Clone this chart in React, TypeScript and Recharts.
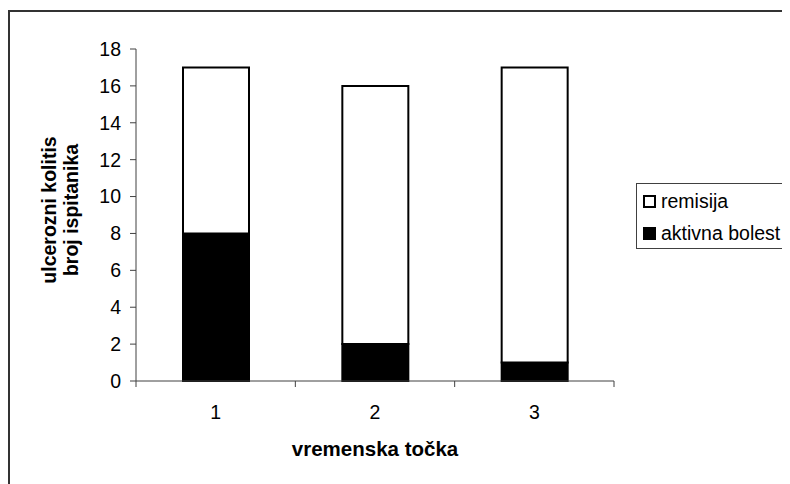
import { Bar, BarChart, Label, XAxis, YAxis } from "recharts";

const categories = ["1", "2", "3"];
const aktivnaBolest = [8, 2, 1];
const remisija = [9, 14, 16];
const yTicks = [0, 2, 4, 6, 8, 10, 12, 14, 16, 18];

const legendItems = [
  { name: "remisija", fill: "#ffffff" },
  { name: "aktivna bolest", fill: "#000000" },
];

const data = categories.map((name, i) => ({
  name,
  aktivna: aktivnaBolest[i],
  remisija: remisija[i],
}));

const FONT = "'Liberation Sans', Arial, sans-serif";
const AXIS = "#404040";

// kategorijska os: oznaka u sredini, crtica na granicama kategorija (kao Excel)
function EdgeTick(props: any) {
  const { x, y, payload, index, visibleTicksCount, width } = props;
  const half = payload?.offset ?? width / visibleTicksCount / 2;
  const axisY = y - 6 - 18;
  return (
    <g>
      <line x1={x - half} x2={x - half} y1={axisY} y2={axisY + 6} stroke={AXIS} />
      {index === visibleTicksCount - 1 && (
        <line x1={x + half} x2={x + half} y1={axisY} y2={axisY + 6} stroke={AXIS} />
      )}
      <text x={x} y={y} dy="0.71em" textAnchor="middle" fontSize={19.5} fontFamily={FONT} fill="#000">
        {payload.value}
      </text>
    </g>
  );
}

export default function App() {
  return (
    <div style={{ position: "relative", width: 782, height: 476, overflow: "hidden", background: "#fff" }}>
      <div
        style={{
          position: "absolute",
          left: 0,
          top: 2,
          width: 900,
          height: 600,
          borderLeft: "2px solid #333",
          borderTop: "2px solid #333",
        }}
      />
      <div style={{ position: "absolute", left: 0, top: 0 }}>
        <BarChart width={782} height={476} data={data} margin={{ top: 41, right: 176, bottom: 0, left: 0 }}>
          <XAxis
            dataKey="name"
            height={103}
            tickLine={false}
            tickSize={6}
            tickMargin={18}
            stroke={AXIS}
            tick={<EdgeTick />}
          >
            <Label
              content={({ viewBox }: any) => (
                <text
                  x={viewBox.x + viewBox.width / 2}
                  y={viewBox.y + 75}
                  textAnchor="middle"
                  fontSize={20.5}
                  fontWeight="bold"
                  fontFamily={FONT}
                  fill="#000"
                >
                  vremenska točka
                </text>
              )}
            />
          </XAxis>
          <YAxis
            width={128}
            domain={[0, 18]}
            ticks={yTicks}
            interval={0}
            tickSize={6}
            tickMargin={9}
            stroke={AXIS}
            tick={{ fill: "#000", fontSize: 19.5, fontFamily: FONT }}
          >
            <Label
              content={({ viewBox }: any) => {
                const cy = viewBox.y + viewBox.height / 2 - 5;
                const x1 = viewBox.x + 48;
                const x2 = viewBox.x + 70;
                return (
                  <g fontSize={19.5} fontWeight="bold" fontFamily={FONT} fill="#000" textAnchor="middle">
                    <text x={x1} y={cy} transform={`rotate(-90 ${x1} ${cy})`}>
                      ulcerozni kolitis
                    </text>
                    <text x={x2} y={cy} transform={`rotate(-90 ${x2} ${cy})`}>
                      broj ispitanika
                    </text>
                  </g>
                );
              }}
            />
          </YAxis>
          <Bar dataKey="aktivna" stackId="a" barSize={66} fill="#000" stroke="#000" strokeWidth={2} isAnimationActive={false} />
          <Bar dataKey="remisija" stackId="a" barSize={66} fill="#fff" stroke="#000" strokeWidth={2} isAnimationActive={false} />
        </BarChart>
      </div>
      <div
        style={{
          position: "absolute",
          left: 628,
          top: 175,
          width: 200,
          height: 64,
          border: "1px solid #404040",
          background: "#fff",
          fontFamily: FONT,
          fontSize: 19.5,
          color: "#000",
        }}
      >
        {legendItems.map((item, i) => (
          <div
            key={item.name}
            style={{ position: "absolute", left: 6, top: 5 + i * 32, height: 24, display: "flex", alignItems: "center" }}
          >
            <span
              style={{
                display: "inline-block",
                width: 9,
                height: 9,
                border: "2px solid #000",
                background: item.fill,
                marginRight: 5,
              }}
            />
            <span>{item.name}</span>
          </div>
        ))}
      </div>
    </div>
  );
}
